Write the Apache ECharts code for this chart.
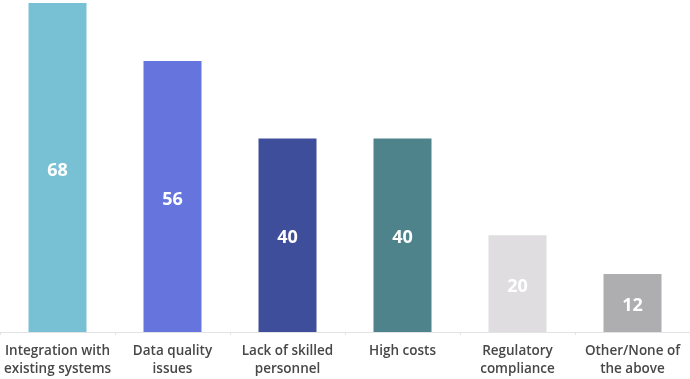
<!DOCTYPE html>
<html><head><meta charset="utf-8">
<script src="https://cdn.jsdelivr.net/npm/echarts@6/dist/echarts.min.js"></script>
<style>html,body{margin:0;padding:0;background:#fff}#c{width:690px;height:379px}</style>
</head><body><div id="c"></div>
<script>
const categories = ["Integration with\nexisting systems","Data quality\nissues","Lack of skilled\npersonnel","High costs","Regulatory\ncompliance","Other/None of\nthe above"];
const values = [68,56,40,40,20,12];
const colors = ["#78c1d4","#6675dd","#3f4e9a","#4e838c","#dfdde0","#aeadb0"];
const chart = echarts.init(document.getElementById('c'));
chart.setOption({
  animation:false,
  grid:{left:0,right:0,top:3,bottom:47},
  xAxis:{type:'category',data:categories,
    axisLine:{lineStyle:{color:'#e4e4e6'}},
    axisTick:{show:true,length:3,lineStyle:{color:'#e4e4e6'}},
    axisLabel:{color:'#474747',fontFamily:'"Open Sans", sans-serif',fontWeight:600,fontSize:13.5,lineHeight:18,margin:10,interval:0}},
  yAxis:{type:'value',min:0,max:68,show:false,splitLine:{show:false}},
  series:[{type:'bar',barWidth:58,
    data:values.map((v,i)=>({value:v,itemStyle:{color:colors[i]}})),
    label:{show:true,position:'inside',offset:[0,3],color:'#fff',fontFamily:'"Open Sans", sans-serif',fontWeight:'bold',fontSize:18}}]
});
</script></body></html>
